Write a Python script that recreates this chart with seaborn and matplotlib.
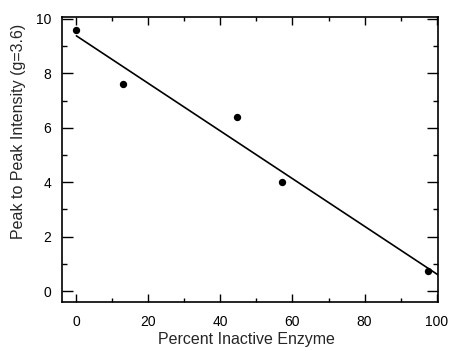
import numpy as np
import pandas as pd
import matplotlib
matplotlib.use("Agg")
import matplotlib.pyplot as plt
import seaborn as sns
from matplotlib.ticker import MultipleLocator

percent_inactive = [0, 13, 44.5, 57, 97.5]
intensity = [9.6, 7.6, 6.4, 4.0, 0.75]
x_ticks = [0, 20, 40, 60, 80, 100]
y_ticks = [0, 2, 4, 6, 8, 10]

sns.set_style("ticks")
plt.rcParams['font.family'] = ['Liberation Sans', 'DejaVu Sans']

fig = plt.figure(figsize=(4.5, 3.51), dpi=100)
ax = fig.add_axes([62/450, 1-302/351, 376/450, 285/351])

df = pd.DataFrame({"x": percent_inactive, "y": intensity})
xlim = (-4, 100.4)
ylim = (-0.4, 10.07)

sns.scatterplot(data=df, x="x", y="y", ax=ax, s=28, color="black", edgecolor="black", linewidth=0, zorder=3)

slope, intercept = np.polyfit(df["x"], df["y"], 1)
fx = np.array([0, xlim[1]])
fit = pd.DataFrame({"x": fx, "y": intercept + slope * fx})
sns.lineplot(data=fit, x="x", y="y", ax=ax, color="black", linewidth=1.2)

ax.set_xlim(*xlim)
ax.set_ylim(*ylim)
ax.set_xticks(x_ticks)
ax.set_yticks(y_ticks)
ax.xaxis.set_minor_locator(MultipleLocator(10))
ax.yaxis.set_minor_locator(MultipleLocator(1))
ax.tick_params(axis="both", which="both", direction="in", top=True, right=True, colors="black", labelsize=10)
ax.tick_params(axis="x", which="major", length=6, width=1, pad=9)
ax.tick_params(axis="x", which="minor", length=3, width=1)
ax.tick_params(axis="y", which="major", length=8, width=1, pad=8)
ax.tick_params(axis="y", which="minor", length=3.5, width=1)
for s in ax.spines.values():
    s.set_visible(True)
    s.set_linewidth(1.2)
    s.set_color("black")

ax.set_xlabel("Percent Inactive Enzyme", fontsize=11.5)
ax.set_ylabel("Peak to Peak Intensity (g=3.6)", fontsize=11.5)
ax.xaxis.set_label_coords(0.49, -0.107)
ax.yaxis.set_label_coords(-0.095, 0.6)

fig.savefig("out.png", dpi=100)
